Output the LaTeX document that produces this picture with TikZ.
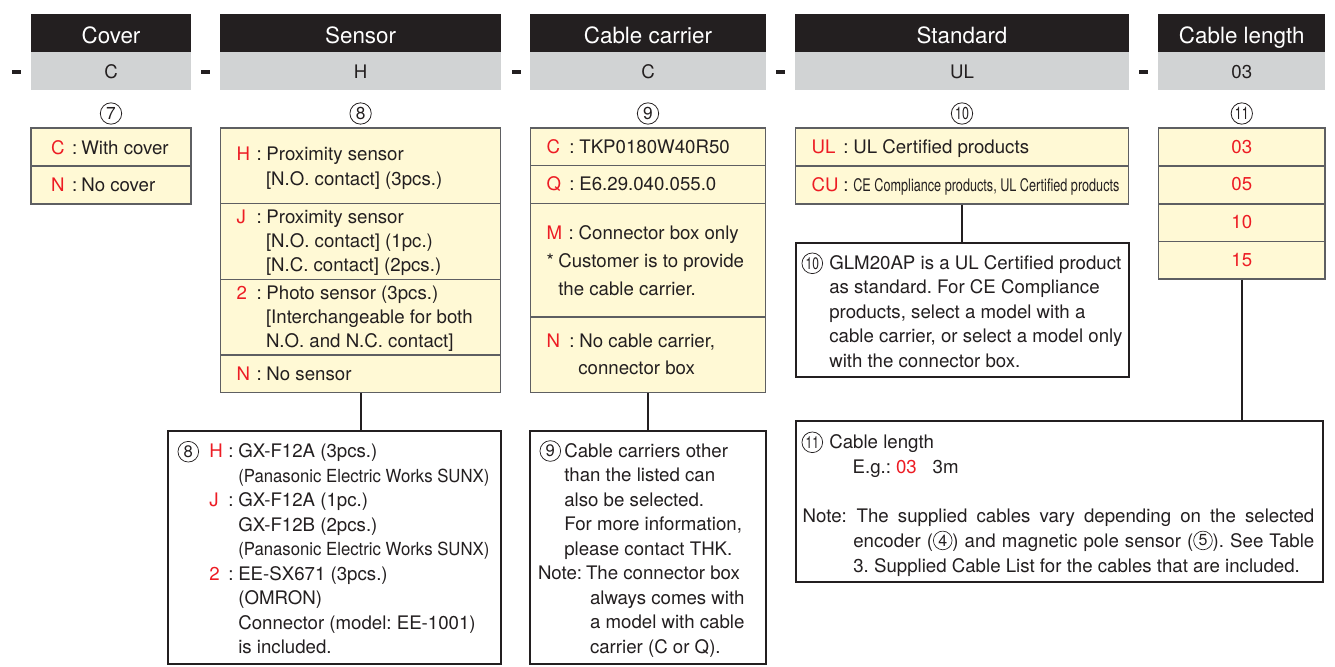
\documentclass[tikz,border=0pt]{standalone}
\usepackage{fontspec}
\setmainfont{TeX Gyre Heros}
\usepackage{graphicx}
\usetikzlibrary{fit}
\definecolor{hdrblk}{HTML}{231F20}
\definecolor{greyrow}{HTML}{D1D3D4}
\definecolor{cream}{HTML}{FFF9D5}
\definecolor{redtxt}{HTML}{ED1C24}
\definecolor{txt}{HTML}{231F20}
\definecolor{boxline}{HTML}{5E5F62}
\newcommand{\bodyf}{\fontsize{14}{18}\selectfont\frenchspacing}
\newcommand{\hdrf}{\fontsize{16.8}{20}\selectfont}
\newcommand{\rd}[1]{\textcolor{redtxt}{#1}}
\newcommand{\cnum}[1]{\raisebox{-2.1pt}{\tikz\node[circle,draw=txt,line width=0.5pt,inner sep=0pt,minimum size=14pt,text=txt,font=\fontsize{12}{12}\selectfont]{#1};}}
\newcommand{\opt}[4]{\rlap{\rd{#1}}\hspace*{#2}\rlap{:}\hspace*{#3}#4}
\newcommand{\pana}{{\fontsize{13.5}{16}\selectfont\scalebox{0.93}[1]{(Panasonic Electric Works SUNX)}}}
\tikzset{
  hdr/.style={fill=hdrblk, draw=none, inner sep=0pt},
  grey/.style={fill=greyrow, draw=none, inner sep=0pt},
  optrow/.style={draw=boxline, fill=cream, line width=1pt, inner sep=0pt},
  notebox/.style={draw=hdrblk, fill=white, line width=1.4pt, inner sep=0pt},
  conn/.style={draw=hdrblk, line width=1.4pt},
  tx/.style={anchor=base west, inner sep=0pt, outer sep=0pt, font=\bodyf, text=txt},
  tc/.style={anchor=base, inner sep=0pt, outer sep=0pt, font=\bodyf, text=txt},
  htx/.style={anchor=base, inner sep=0pt, font=\hdrf, text=white},
  ctop/.style={circle, draw=txt, line width=0.6pt, inner sep=0pt, minimum size=16pt, text=txt, font=\fontsize{13}{13}\selectfont},
  cnote/.style={circle, draw=txt, line width=0.55pt, inner sep=0pt, minimum size=15.5pt, text=txt, font=\fontsize{12.5}{12.5}\selectfont},
  dashmark/.style={rectangle, fill=hdrblk, draw=none, inner sep=0pt, minimum width=6.75pt, minimum height=2.6pt}
}
\begin{document}
\begin{tikzpicture}[x=0.75pt, y=-0.75pt]
\useasboundingbox (0,0) rectangle (1335,667);

% ---------- headers ----------
\node[hdr, fit={(31,14) (191,52)}] (hCov) {};
\node[grey, fit={(31,52) (191,90)}] (gCov) {};
\node[hdr, fit={(220.3,14) (501,52)}] (hSen) {};
\node[grey, fit={(220.3,52) (501,90)}] (gSen) {};
\node[hdr, fit={(530.3,14) (765.7,52)}] (hCC) {};
\node[grey, fit={(530.3,52) (765.7,90)}] (gCC) {};
\node[hdr, fit={(795,14) (1129,52)}] (hStd) {};
\node[grey, fit={(795,52) (1129,90)}] (gStd) {};
\node[hdr, fit={(1158.3,14) (1325.3,52)}] (hCL) {};
\node[grey, fit={(1158.3,52) (1325.3,90)}] (gCL) {};

\node[htx] (htCov) at (111,43.3) {Cover};
\node[htx] (htSen) at (360.6,43.3) {Sensor};
\node[htx] (htCC) at (648,43.3) {Cable carrier};
\node[htx] (htStd) at (962,43.3) {Standard};
\node[htx] (htCL) at (1241.8,43.3) {Cable length};

\node[tc] (gtCov) at (111,78.3) {C};
\node[tc] (gtSen) at (360.6,78.3) {H};
\node[tc] (gtCC) at (648,78.3) {C};
\node[tc] (gtStd) at (962,78.3) {UL};
\node[tc] (gtCL) at (1241.8,78.3) {03};

\node[dashmark] (d1) at (16.2,71.8) {};
\node[dashmark] (d2) at (205.6,71.8) {};
\node[dashmark] (d3) at (516.2,71.8) {};
\node[dashmark] (d4) at (780.5,71.8) {};
\node[dashmark] (d5) at (1143.3,71.8) {};

\node[ctop] (c7) at (111,113.5) {7};
\node[ctop] (c8) at (360.6,113.5) {8};
\node[ctop] (c9) at (648,113.5) {9};
\node[ctop] (c10) at (962,113.5) {\scalebox{0.72}[1]{10}};
\node[ctop] (c11) at (1241.8,113.5) {\scalebox{0.72}[1]{11}};

% ---------- note boxes ----------
\node[notebox, fit={(168,431) (500.7,664)}] (nSen) {};
\node[notebox, fit={(530,431) (765.7,664)}] (nCC) {};
\node[notebox, fit={(795.7,242.7) (1129,377)}] (nStd) {};
\node[notebox, fit={(795.7,420.7) (1323.3,581.7)}] (nCL) {};

% ---------- option boxes ----------
\node[optrow, fit={(31,128) (191,166)}] (cvA) {};
\node[optrow, fit={(31,166) (191,204)}] (cvB) {};

\node[optrow, fit={(220.8,128) (500.7,203.7)}] (seA) {};
\node[optrow, fit={(220.8,203.7) (500.7,279.3)}] (seB) {};
\node[optrow, fit={(220.8,279.3) (500.7,355)}] (seC) {};
\node[optrow, fit={(220.8,355) (500.7,392.3)}] (seD) {};

\node[optrow, fit={(530.6,128) (765.7,165.7)}] (ccA) {};
\node[optrow, fit={(530.6,165.7) (765.7,203.7)}] (ccB) {};
\node[optrow, fit={(530.6,203.7) (765.7,317)}] (ccC) {};
\node[optrow, fit={(530.6,317) (765.7,392.7)}] (ccD) {};

\node[optrow, fit={(795.3,128) (1128.7,166)}] (sdA) {};
\node[optrow, fit={(795.3,166) (1128.7,204)}] (sdB) {};

\node[optrow, fit={(1158.5,128) (1325,166)}] (clA) {};
\node[optrow, fit={(1158.5,166) (1325,204)}] (clB) {};
\node[optrow, fit={(1158.5,204) (1325,241.5)}] (clC) {};
\node[optrow, fit={(1158.5,241.5) (1325,279)}] (clD) {};

% ---------- connectors ----------
\draw[conn] (seD.south) -- (seD.south |- nSen.north);
\draw[conn] (ccD.south) -- (ccD.south |- nCC.north);
\draw[conn] (sdB.south) -- (sdB.south |- nStd.north);
\draw[conn] (clD.south) -- (clD.south |- nCL.north);

% ---------- option texts ----------
\node[tx] (cv1) at (51,154) {\opt{C}{15.75pt}{7pt}{With cover}};
\node[tx] (cv2) at (51,191) {\opt{N}{15.75pt}{7pt}{No cover}};

\node[tx] (se1) at (236.7,160) {\opt{H}{15pt}{7.3pt}{Proximity sensor}};
\node[tx] (se1b) at (266,185) {[N.O. contact] (3pcs.)};
\node[tx] (se2) at (236.7,223.3) {\opt{J}{15pt}{7.3pt}{Proximity sensor}};
\node[tx] (se2b) at (266,247.7) {[N.O. contact] (1pc.)};
\node[tx] (se2c) at (266,271.7) {[N.C. contact] (2pcs.)};
\node[tx] (se3) at (236.7,299) {\opt{2}{15pt}{7.3pt}{Photo sensor (3pcs.)}};
\node[tx] (se3b) at (266,323.3) {[Interchangeable for both};
\node[tx] (se3c) at (266,347.7) {N.O. and N.C. contact]};
\node[tx] (se4) at (236.7,380) {\opt{N}{15pt}{7.3pt}{No sensor}};

\node[tx] (cc1) at (546.7,153.3) {\opt{C}{17pt}{7.5pt}{TKP0180W40R50}};
\node[tx] (cc2) at (546.7,190.7) {\opt{Q}{17pt}{7.5pt}{E6.29.040.055.0}};
\node[tx] (cc3) at (546.7,239) {\opt{M}{16.5pt}{7.5pt}{Connector box only}};
\node[tx] (cc3s) at (546.7,267.3) {*};
\node[tx] (cc3b) at (558.3,267.3) {Customer is to provide};
\node[tx] (cc3c) at (558.3,295) {the cable carrier.};
\node[tx] (cc4) at (546.7,347.3) {\opt{N}{17pt}{7.5pt}{No cable carrier,}};
\node[tx] (cc4b) at (578.3,374.3) {connector box};

\node[tx] (sd1) at (811.7,153.3) {\opt{UL}{23.7pt}{7.5pt}{UL Certified products}};
\node[tx] (sd2) at (811.7,191.7) {\opt{CU}{23.7pt}{7.5pt}{{\fontsize{13}{16}\selectfont\scalebox{0.73}[1]{CE Compliance products, UL Certified products}}}};

\node[tc, text=redtxt] (cl1) at (1241.8,153.3) {03};
\node[tc, text=redtxt] (cl2) at (1241.8,190.7) {05};
\node[tc, text=redtxt] (cl3) at (1241.8,228.3) {10};
\node[tc, text=redtxt] (cl4) at (1241.8,266.7) {15};

% ---------- sensor note ----------
\node[cnote] (sn0) at (188.3,451.7) {8};
\node[tx] (sn1) at (209.3,457.7) {\opt{H}{14.25pt}{7.5pt}{GX-F12A (3pcs.)}};
\node[tx] (sn2) at (238.3,482) {\pana};
\node[tx] (sn3) at (209.3,506.5) {\opt{J}{14.25pt}{7.5pt}{GX-F12A (1pc.)}};
\node[tx] (sn4) at (238.3,531) {GX-F12B (2pcs.)};
\node[tx] (sn5) at (238.3,555.5) {\pana};
\node[tx] (sn6) at (209.3,580) {\opt{2}{14.25pt}{7.5pt}{EE-SX671 (3pcs.)}};
\node[tx] (sn7) at (238.3,604.5) {(OMRON)};
\node[tx] (sn8) at (238.3,629) {Connector (model: EE-1001)};
\node[tx] (sn9) at (238.3,653.5) {is included.};

% ---------- cable carrier note ----------
\node[cnote] (cn0) at (550.3,451) {9};
\node[tx] (cn1) at (564.3,457) {Cable carriers other};
\node[tx] (cn2) at (564.3,481.5) {than the listed can};
\node[tx] (cn3) at (564.3,506) {also be selected.};
\node[tx] (cn4) at (564.3,530.5) {For more information,};
\node[tx] (cn5) at (564.3,555) {please contact THK.};
\node[tx] (cn6) at (538,579.5) {Note:};
\node[tx] (cn7) at (586,579.5) {The connector box};
\node[tx] (cn8) at (590,604) {always comes with};
\node[tx] (cn9) at (590,628.5) {a model with cable};
\node[tx] (cn10) at (590,653) {carrier (C or Q).};

% ---------- standard note ----------
\node[cnote] (stn0) at (812.3,263.3) {\scalebox{0.72}[1]{10}};
\node[tx] (stn1) at (829.3,269.3) {GLM20AP is a UL Certified product};
\node[tx] (stn2) at (829.3,293.8) {as standard. For CE Compliance};
\node[tx] (stn3) at (829.3,318.3) {products, select a model with a};
\node[tx] (stn4) at (829.3,342.8) {cable carrier, or select a model only};
\node[tx] (stn5) at (829.3,367.3) {with the connector box.};

% ---------- cable length note ----------
\node[cnote] (cln0) at (812.3,442.3) {\scalebox{0.72}[1]{11}};
\node[tx] (cln1) at (829.3,448.3) {Cable length};
\node[tx] (cln2) at (852.7,473.3) {E.g.:};
\node[tx, text=redtxt] (cln3) at (896,473.3) {03};
\node[tx] (cln4) at (932.7,473.3) {3m};
\node[tx] (cln5) at (802.7,522) {Note:};
\node[tx] (cln6) at (856.7,522) {\makebox[343.2pt][s]{The supplied cables vary depending on the selected}};
\node[tx] (cln7) at (853.3,547.3) {\makebox[345.75pt][s]{encoder (\cnum{4}) and magnetic pole sensor (\cnum{5}). See Table}};
\node[tx] (cln8) at (853.3,572.3) {3. Supplied Cable List for the cables that are included.};
\end{tikzpicture}
\end{document}
